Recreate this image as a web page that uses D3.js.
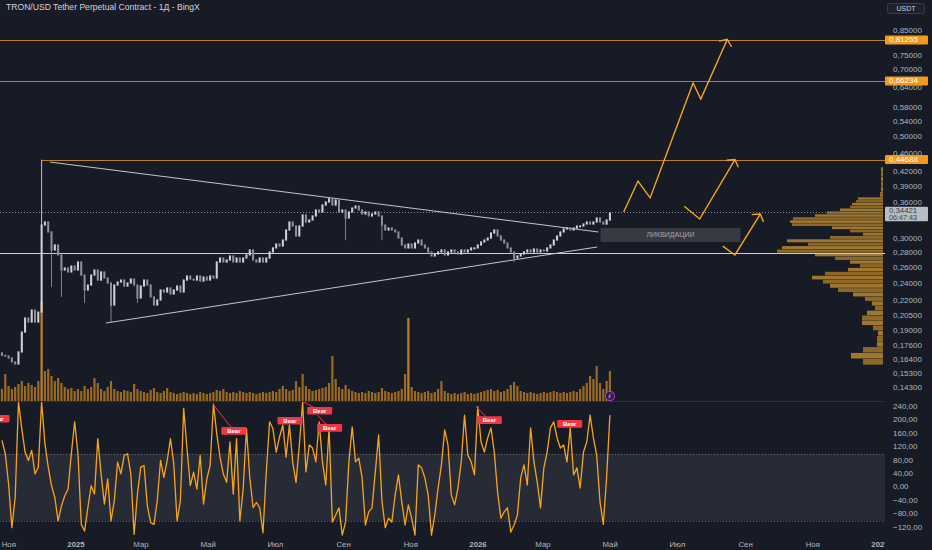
<!DOCTYPE html>
<html><head><meta charset="utf-8">
<script src="https://cdn.jsdelivr.net/npm/d3@7"></script>
<style>html,body{margin:0;padding:0;background:#171b26;overflow:hidden}svg{display:block}</style>
</head><body><svg id="c" width="932" height="550"></svg>
<script>
// ---------------- DATA ----------------
const title = "TRON/USD Tether Perpetual Contract - 1Д - BingX";
const currency = "USDT";
const startDate = Date.UTC(2024, 9, 27);   // first 3-day candle
const stepDays = 3;
const openFirst = 0.170;
const closes = [
0.168,0.1674,0.1657,0.1625,0.1608,0.1708,0.1887,0.2024,0.1984,0.2106,
0.1984,0.2085,0.3222,0.3271,0.3112,0.2844,0.2916,0.2774,0.2573,0.2599,
0.2548,0.2625,0.2573,0.2678,0.2509,0.2328,0.2387,0.2509,0.2573,0.2447,
0.2548,0.2472,0.2411,0.2160,0.2387,0.2423,0.2447,0.2375,0.2411,0.2459,
0.2387,0.2237,0.2375,0.2447,0.2387,0.2249,0.2160,0.2215,0.2328,0.2305,
0.2352,0.2282,0.2328,0.2375,0.2305,0.2447,0.2497,0.2459,0.2447,0.2497,
0.2435,0.2484,0.2447,0.2497,0.2472,0.2678,0.2732,0.2678,0.2705,0.2760,
0.2678,0.2732,0.2678,0.2732,0.2774,0.2844,0.2705,0.2678,0.2732,0.2678,
0.2732,0.2816,0.2873,0.2930,0.2901,0.2989,0.3143,0.3271,0.3206,0.3050,
0.3206,0.3388,0.3271,0.3304,0.3371,0.3473,0.3439,0.3561,0.3615,0.3669,
0.3561,0.3651,0.3439,0.3473,0.3337,0.3439,0.3508,0.3543,0.3473,0.3405,
0.3439,0.3371,0.3405,0.3439,0.3371,0.3222,0.3143,0.3174,0.3143,0.3112,
0.3019,0.2916,0.2873,0.2930,0.2873,0.2945,0.2989,0.2916,0.2873,0.2816,
0.2760,0.2788,0.2816,0.2844,0.2774,0.2816,0.2844,0.2816,0.2788,0.2844,
0.2816,0.2844,0.2873,0.2873,0.2916,0.2960,0.2989,0.3019,0.3096,0.3143,
0.3050,0.2989,0.2945,0.2873,0.2816,0.2732,0.2760,0.2788,0.2816,0.2844,
0.2816,0.2858,0.2816,0.2844,0.2830,0.2873,0.2916,0.2989,0.3050,0.3112,
0.3159,0.3174,0.3143,0.3174,0.3206,0.3206,0.3238,0.3271,0.3238,0.3271,
0.3337,0.3271,0.3238,0.3304,0.3421];
const wickIdx  = [12, 15, 18, 25, 33, 41, 99, 104, 115, 155];
const wickHigh = [0.4469, null, null, null, null, null, 0.3688, null, null, null];
const wickLow  = [null, 0.2363, 0.2249, 0.2182, 0.1974, 0.2182, null, 0.2989, 0.2989, 0.2678];
const volumes = [
12,27,15,12,14,17,20,15,18,16,
14,20,100,30,32,25,20,23,18,14,
12,13,10,12,10,15,12,14,23,18,
12,10,14,20,12,10,9,11,10,9,
17,12,10,9,8,11,13,9,8,10,
13,9,8,7,8,9,8,7,8,7,
9,8,7,8,9,11,10,12,9,8,
9,8,10,9,8,9,8,7,8,9,
8,9,10,9,12,15,12,10,11,20,
14,27,15,12,10,11,12,13,14,18,
45,22,14,12,16,12,10,9,8,9,
8,10,9,8,9,13,10,9,8,9,
10,12,27,83,14,10,9,8,9,10,
8,9,12,20,10,8,7,8,7,8,
9,7,8,7,8,9,10,11,12,10,
11,9,10,12,16,19,15,10,9,8,
9,8,7,8,9,8,9,10,9,8,
9,8,9,10,9,12,15,18,25,22,
35,18,12,20,30];
const osc = [
140,100,10,-120,-30,254,175,105,80,110,
40,60,255,130,60,5,-30,-100,-55,-25,
-5,100,195,100,-110,-130,-60,5,-20,145,
40,-50,25,-100,-40,75,40,95,100,40,
-140,-20,60,65,-55,-105,-110,-40,80,30,
80,145,70,-100,-40,235,115,5,45,-5,
95,-50,25,65,248,160,90,40,15,135,
-20,145,-100,-5,175,30,-60,-45,-60,-135,
45,195,175,105,150,185,90,185,75,15,
125,254,46,126,117,76,195,76,7,177,
-103,-82,-61,-142,-103,76,180,76,87,28,
-112,-73,-61,46,156,-40,-120,-92,-103,-23,
37,-43,-112,-52,-92,-142,67,58,28,-23,
-142,-82,-2,67,171,126,-23,-52,-2,76,
215,96,76,37,240,135,105,147,177,105,
-14,-92,-73,-61,-133,-112,-82,28,67,7,
177,76,16,-61,58,105,177,195,147,117,
126,76,177,37,58,-2,105,135,215,147,
96,-43,-110,30,215];
// volume profile (bin low price -> relative volume)
const profileLow = [0.160,0.165,0.170,0.175,0.180,0.185,0.190,0.195,0.200,0.205,0.210,0.215,0.220,0.225,0.230,0.235,0.240,0.245,0.250,0.255,0.260,0.265,0.270,0.275,0.280,0.285,0.290,0.295,0.300,0.305,0.310,0.315,0.320,0.325,0.330,0.335,0.340,0.345,0.350,0.355,0.360,0.365,0.370,0.380,0.390,0.400,0.410,0.420];
const profileVol = [20,32,20,6,6,5,10,21,21,16,8,11,18,30,45,53,60,71,58,35,23,33,48,68,106,101,75,96,53,20,33,51,91,93,90,68,56,43,33,31,27,25,3,2,2,2,2,2];
const profileTop = 0.430;
// horizontal levels
const levelPrices = [0.81255, 0.66234, 0.44688];
const levelStart  = [null, null, "2024-12-04"];
const supportPrice = 0.2795;
const lastPrice = 0.34421;
const countdown = "06:47:43";
// triangle
const trendUpper = [["2024-12-11", 0.4415], ["2026-04-23", 0.3112]];
const trendLower = [["2025-01-31", 0.1974], ["2026-04-22", 0.2887]];
// projected paths
const arrow1 = [["2026-05-16",0.3438],["2026-05-29",0.4015],["2026-06-09",0.369],["2026-07-18",0.6554],["2026-07-25",0.605],["2026-08-18",0.815]];
const arrow2 = [["2026-07-10",0.354],["2026-07-24",0.332],["2026-08-25",0.447]];
const arrow3 = [["2026-08-14",0.290],["2026-08-25",0.2774],["2026-09-17",0.3404]];
const liqZone = {from:"2026-04-25", to:"2026-08-30", low:0.2960, high:0.3174, label:"ЛИКВИДАЦИИ"};
// bear divergence labels
const bearDates     = ["2024-10-24","2025-05-27","2025-07-17","2025-08-13","2025-08-22","2026-01-14","2026-03-28"];
const bearVals      = [204,168,198,228,177,200,189];
const bearPeakDates = [null,"2025-05-08",null,"2025-07-28","2025-08-11","2026-01-02",null];
const bearPeakVals  = [null,248,null,257,215,240,null];
// axes
const priceTicks = [0.85,0.75,0.70,0.64,0.58,0.54,0.50,0.46,0.42,0.39,0.36,0.30,0.28,0.26,0.24,0.22,0.205,0.19,0.176,0.164,0.153,0.143];
const oscTicks = [240,200,160,120,80,40,0,-40,-80,-120];
const oscBand = [-100, 100];
const monthNames = ["Янв","Фев","Мар","Апр","Май","Июн","Июл","Авг","Сен","Окт","Ноя","Дек"];

// ---------------- CHART ----------------
const W = 932, H = 550, plotR = 885;
const FONT = "'Liberation Sans', Arial, sans-serif";
const svg = d3.select("#c");
const D = s => new Date(s + "T00:00:00Z");
const DAY = 864e5;

const x = d3.scaleUtc().domain([D("2025-01-01"), D("2026-01-01")]).range([73, 475]);
const yP = d3.scaleLog().domain([0.143, 0.85]).range([387.5, 31]);
const yV = d3.scaleLinear().domain([0, 100]).range([401, 301]);
const yO = d3.scaleLinear().domain([-120, 240]).range([527.7, 406.7]);
const xProf = d3.scaleLinear().domain([0, 106]).range([883, 777]);
const snap = v => Math.round(v) + 0.5;

svg.append("rect").attr("width", W).attr("height", H).attr("fill", "#171b26");

const defs = svg.append("defs");
defs.append("clipPath").attr("id","cp").append("rect").attr("x",0).attr("y",0).attr("width",plotR).attr("height",401);
defs.append("clipPath").attr("id","co").append("rect").attr("x",0).attr("y",401).attr("width",plotR).attr("height",136);

// ---- oscillator pane ----
const gO = svg.append("g").attr("clip-path","url(#co)");
gO.append("rect").attr("x",0).attr("width",plotR)
  .attr("y", yO(oscBand[1])).attr("height", yO(oscBand[0]) - yO(oscBand[1]))
  .attr("fill","#272b36");
oscBand.forEach(v => gO.append("line").attr("x1",0).attr("x2",plotR).attr("y1",snap(yO(v))).attr("y2",snap(yO(v)))
  .attr("stroke","#5d606b").attr("stroke-dasharray","1,2").attr("stroke-width",1).attr("shape-rendering","crispEdges"));

const candleDate = i => new Date(startDate + (i*stepDays + stepDays/2) * DAY);

gO.append("path").datum(osc).attr("fill","none").attr("stroke","#f7a41d").attr("stroke-width",1.3)
  .attr("stroke-linejoin","round")
  .attr("d", d3.line().x((d,i)=>x(candleDate(i))).y(d=>yO(d)));

bearDates.forEach((d,k) => {
  const lx = x(D(d)), ly = yO(bearVals[k]);
  if (bearPeakDates[k]) {
    gO.append("line").attr("x1", x(D(bearPeakDates[k]))).attr("y1", yO(bearPeakVals[k]))
      .attr("x2", lx).attr("y2", ly).attr("stroke","#f23645").attr("stroke-width",1);
  }
  gO.append("rect").attr("x", lx-12.5).attr("y", ly-3.8).attr("width",25).attr("height",7.6).attr("rx",1)
    .attr("fill","#f23645");
  gO.append("text").attr("x", lx).attr("y", ly+0.3).attr("text-anchor","middle").attr("dominant-baseline","middle")
    .attr("font-family",FONT).attr("font-size",6).attr("font-weight","bold").attr("fill","#ffffff").text("Bear");
});

// ---- price pane ----
const gP = svg.append("g").attr("clip-path","url(#cp)");
// volume
gP.append("g").selectAll("rect").data(volumes).join("rect")
  .attr("x",(d,i)=>x(candleDate(i))-1.1).attr("width",2.2)
  .attr("y",d=>yV(d)).attr("height",d=>yV(0)-yV(d))
  .attr("fill",(d,i)=> d>60 ? "#c98526" : "#a36e20").attr("opacity",0.95);
// volume profile
gP.append("g").selectAll("rect").data(profileLow).join("rect")
  .attr("x",(d,i)=>xProf(profileVol[i])).attr("width",(d,i)=>883 - xProf(profileVol[i]))
  .attr("y",(d,i)=>yP(i < profileLow.length-1 ? profileLow[i+1] : profileTop))
  .attr("height",(d,i)=>Math.max(0.8, yP(d) - yP(i < profileLow.length-1 ? profileLow[i+1] : profileTop) - 0.4))
  .attr("fill",(d,i)=> i%2 ? "#ad7f2f" : "#977029").attr("opacity",0.92);
// levels
levelPrices.forEach((p,k)=>{
  gP.append("line").attr("x1", levelStart[k] ? x(D(levelStart[k])) : 0).attr("x2",plotR)
    .attr("y1",snap(yP(p))).attr("y2",snap(yP(p))).attr("stroke","#c07d27").attr("stroke-width",1)
    .attr("shape-rendering","crispEdges");
});
gP.append("line").attr("x1",0).attr("x2",plotR).attr("y1",snap(yP(supportPrice))).attr("y2",snap(yP(supportPrice)))
  .attr("stroke","#c9ccd4").attr("stroke-width",1).attr("shape-rendering","crispEdges");
gP.append("line").attr("x1",0).attr("x2",plotR).attr("y1",snap(yP(lastPrice))).attr("y2",snap(yP(lastPrice)))
  .attr("stroke","#8a8d96").attr("stroke-dasharray","1,2").attr("stroke-width",1).attr("shape-rendering","crispEdges");
// triangle
[trendUpper, trendLower].forEach(t=>{
  gP.append("line").attr("x1",x(D(t[0][0]))).attr("y1",yP(t[0][1])).attr("x2",x(D(t[1][0]))).attr("y2",yP(t[1][1]))
    .attr("stroke","#c3c6ce").attr("stroke-width",1);
});
// candles
const candles = closes.map((c,i)=>{
  const o = i ? closes[i-1] : openFirst;
  const k = wickIdx.indexOf(i);
  let hi = Math.max(o,c), lo = Math.min(o,c);
  if (k >= 0) { if (wickHigh[k]) hi = Math.max(hi, wickHigh[k]); if (wickLow[k]) lo = Math.min(lo, wickLow[k]); }
  return {i,o,c,hi,lo};
});
const gC = gP.append("g");
gC.selectAll("line").data(candles).join("line")
  .attr("x1",d=>x(candleDate(d.i))).attr("x2",d=>x(candleDate(d.i)))
  .attr("y1",d=>yP(d.hi)).attr("y2",d=>yP(d.lo)).attr("stroke",d=>d.c>=d.o?"#cfd2da":"#8e919a").attr("stroke-width",0.9);
gC.selectAll("rect").data(candles).join("rect")
  .attr("x",d=>x(candleDate(d.i))-1).attr("width",2)
  .attr("y",d=>yP(Math.max(d.o,d.c))-0.6).attr("height",d=>Math.max(2, yP(Math.min(d.o,d.c))-yP(Math.max(d.o,d.c))+1.2))
  .attr("fill",d=>d.c>=d.o?"#cfd2da":"#8e919a");
// liquidation zone
gP.append("rect").attr("x",x(D(liqZone.from))).attr("width",x(D(liqZone.to))-x(D(liqZone.from)))
  .attr("y",yP(liqZone.high)).attr("height",yP(liqZone.low)-yP(liqZone.high)).attr("fill","#3b3d44").attr("opacity",0.92);
gP.append("text").attr("x",(x(D(liqZone.from))+x(D(liqZone.to)))/2).attr("y",(yP(liqZone.high)+yP(liqZone.low))/2+0.5)
  .attr("text-anchor","middle").attr("dominant-baseline","middle").attr("font-family",FONT).attr("font-size",7)
  .attr("fill","#a3a6af").text(liqZone.label);
// arrows
[arrow1, arrow2, arrow3].forEach(a=>{
  const pts = a.map(p=>[x(D(p[0])), yP(p[1])]);
  gP.append("path").attr("d", d3.line()(pts)).attr("fill","none").attr("stroke","#f5a623").attr("stroke-width",1.4)
    .attr("stroke-linejoin","miter");
  const [tx,ty] = pts[pts.length-1], [px,py] = pts[pts.length-2];
  const ang = Math.atan2(py-ty, px-tx), L = 8.5, sp = 0.95;
  const w1 = [tx + L*Math.cos(ang+sp), ty + L*Math.sin(ang+sp)];
  const w2 = [tx + L*Math.cos(ang-sp), ty + L*Math.sin(ang-sp)];
  gP.append("path").attr("d", d3.line()([w1,[tx,ty],w2])).attr("fill","none").attr("stroke","#f5a623").attr("stroke-width",1.4);
});
// event icon
const ix = x(candleDate(closes.length-1)), iy = 396;
gP.append("circle").attr("cx",ix).attr("cy",iy).attr("r",4.6).attr("fill","#2a1f3d").attr("stroke","#9c3fc9").attr("stroke-width",1.1);
gP.append("path").attr("d",`M${ix+1.2},${iy-2.6}L${ix-1.4},${iy+0.4}L${ix+0.6},${iy+0.2}L${ix-1},${iy+2.8}`)
  .attr("fill","none").attr("stroke","#c77be6").attr("stroke-width",0.9);

// pane separator
svg.append("line").attr("x1",0).attr("x2",plotR).attr("y1",401.5).attr("y2",401.5).attr("stroke","#2a2e39").attr("stroke-width",1);

// ---- time axis ----
const tTicks = d3.utcMonth.every(2).range(D("2024-11-01"), D("2027-02-01"));
svg.append("g").selectAll("text").data(tTicks).join("text")
  .attr("x",d=>x(d)+3).attr("y",546.5).attr("text-anchor","middle")
  .attr("font-family",FONT).attr("font-size",7.8).attr("fill","#b2b5be")
  .attr("font-weight",d=>d.getUTCMonth()===0?"bold":"normal")
  .text(d=> d.getUTCMonth()===0 ? d.getUTCFullYear() : monthNames[d.getUTCMonth()]);

// ---- price axis ----
svg.append("rect").attr("x",plotR).attr("y",0).attr("width",W-plotR).attr("height",H).attr("fill","#171b26");
const fmtP = v => d3.format(".5f")(v).replace(".", ",");
const fmtO = v => d3.format(".2f")(v).replace(".", ",");
svg.append("g").selectAll("text").data(priceTicks).join("text")
  .attr("x",893).attr("y",d=>yP(d)).attr("dominant-baseline","middle")
  .attr("font-family",FONT).attr("font-size",8).attr("fill","#b2b5be").text(fmtP);
svg.append("g").selectAll("text").data(oscTicks).join("text")
  .attr("x",893).attr("y",d=>yO(d)).attr("dominant-baseline","middle")
  .attr("font-family",FONT).attr("font-size",8).attr("fill","#b2b5be").text(fmtO);
levelPrices.forEach(p=>{
  svg.append("rect").attr("x",885).attr("y",yP(p)-4.5).attr("width",43).attr("height",9).attr("rx",1).attr("fill","#f39a1e");
  svg.append("text").attr("x",889).attr("y",yP(p)+0.3).attr("dominant-baseline","middle")
    .attr("font-family",FONT).attr("font-size",8).attr("fill","#ffffff").text(fmtP(p));
});
svg.append("rect").attr("x",885).attr("y",yP(lastPrice)-5).attr("width",43).attr("height",14.5).attr("rx",1).attr("fill","#b9bcc3");
svg.append("text").attr("x",889).attr("y",yP(lastPrice)-0.5).attr("dominant-baseline","middle")
  .attr("font-family",FONT).attr("font-size",7.8).attr("fill","#3a3e48").text(fmtP(lastPrice));
svg.append("text").attr("x",889).attr("y",yP(lastPrice)+6).attr("dominant-baseline","middle")
  .attr("font-family",FONT).attr("font-size",7.2).attr("fill","#3a3e48").text(countdown);
// currency box
svg.append("rect").attr("x",887.5).attr("y",3.5).attr("width",37).attr("height",10).attr("rx",2)
  .attr("fill","#1e222d").attr("stroke","#434651").attr("stroke-width",0.8);
svg.append("text").attr("x",906).attr("y",8.8).attr("text-anchor","middle").attr("dominant-baseline","middle")
  .attr("font-family",FONT).attr("font-size",7).attr("fill","#d1d4dc").text(currency);

// ---- title ----
svg.append("text").attr("x",6).attr("y",9.8).attr("font-family",FONT).attr("font-size",8.6)
  .attr("fill","#d1d4dc").text(title);
</script></body></html>
